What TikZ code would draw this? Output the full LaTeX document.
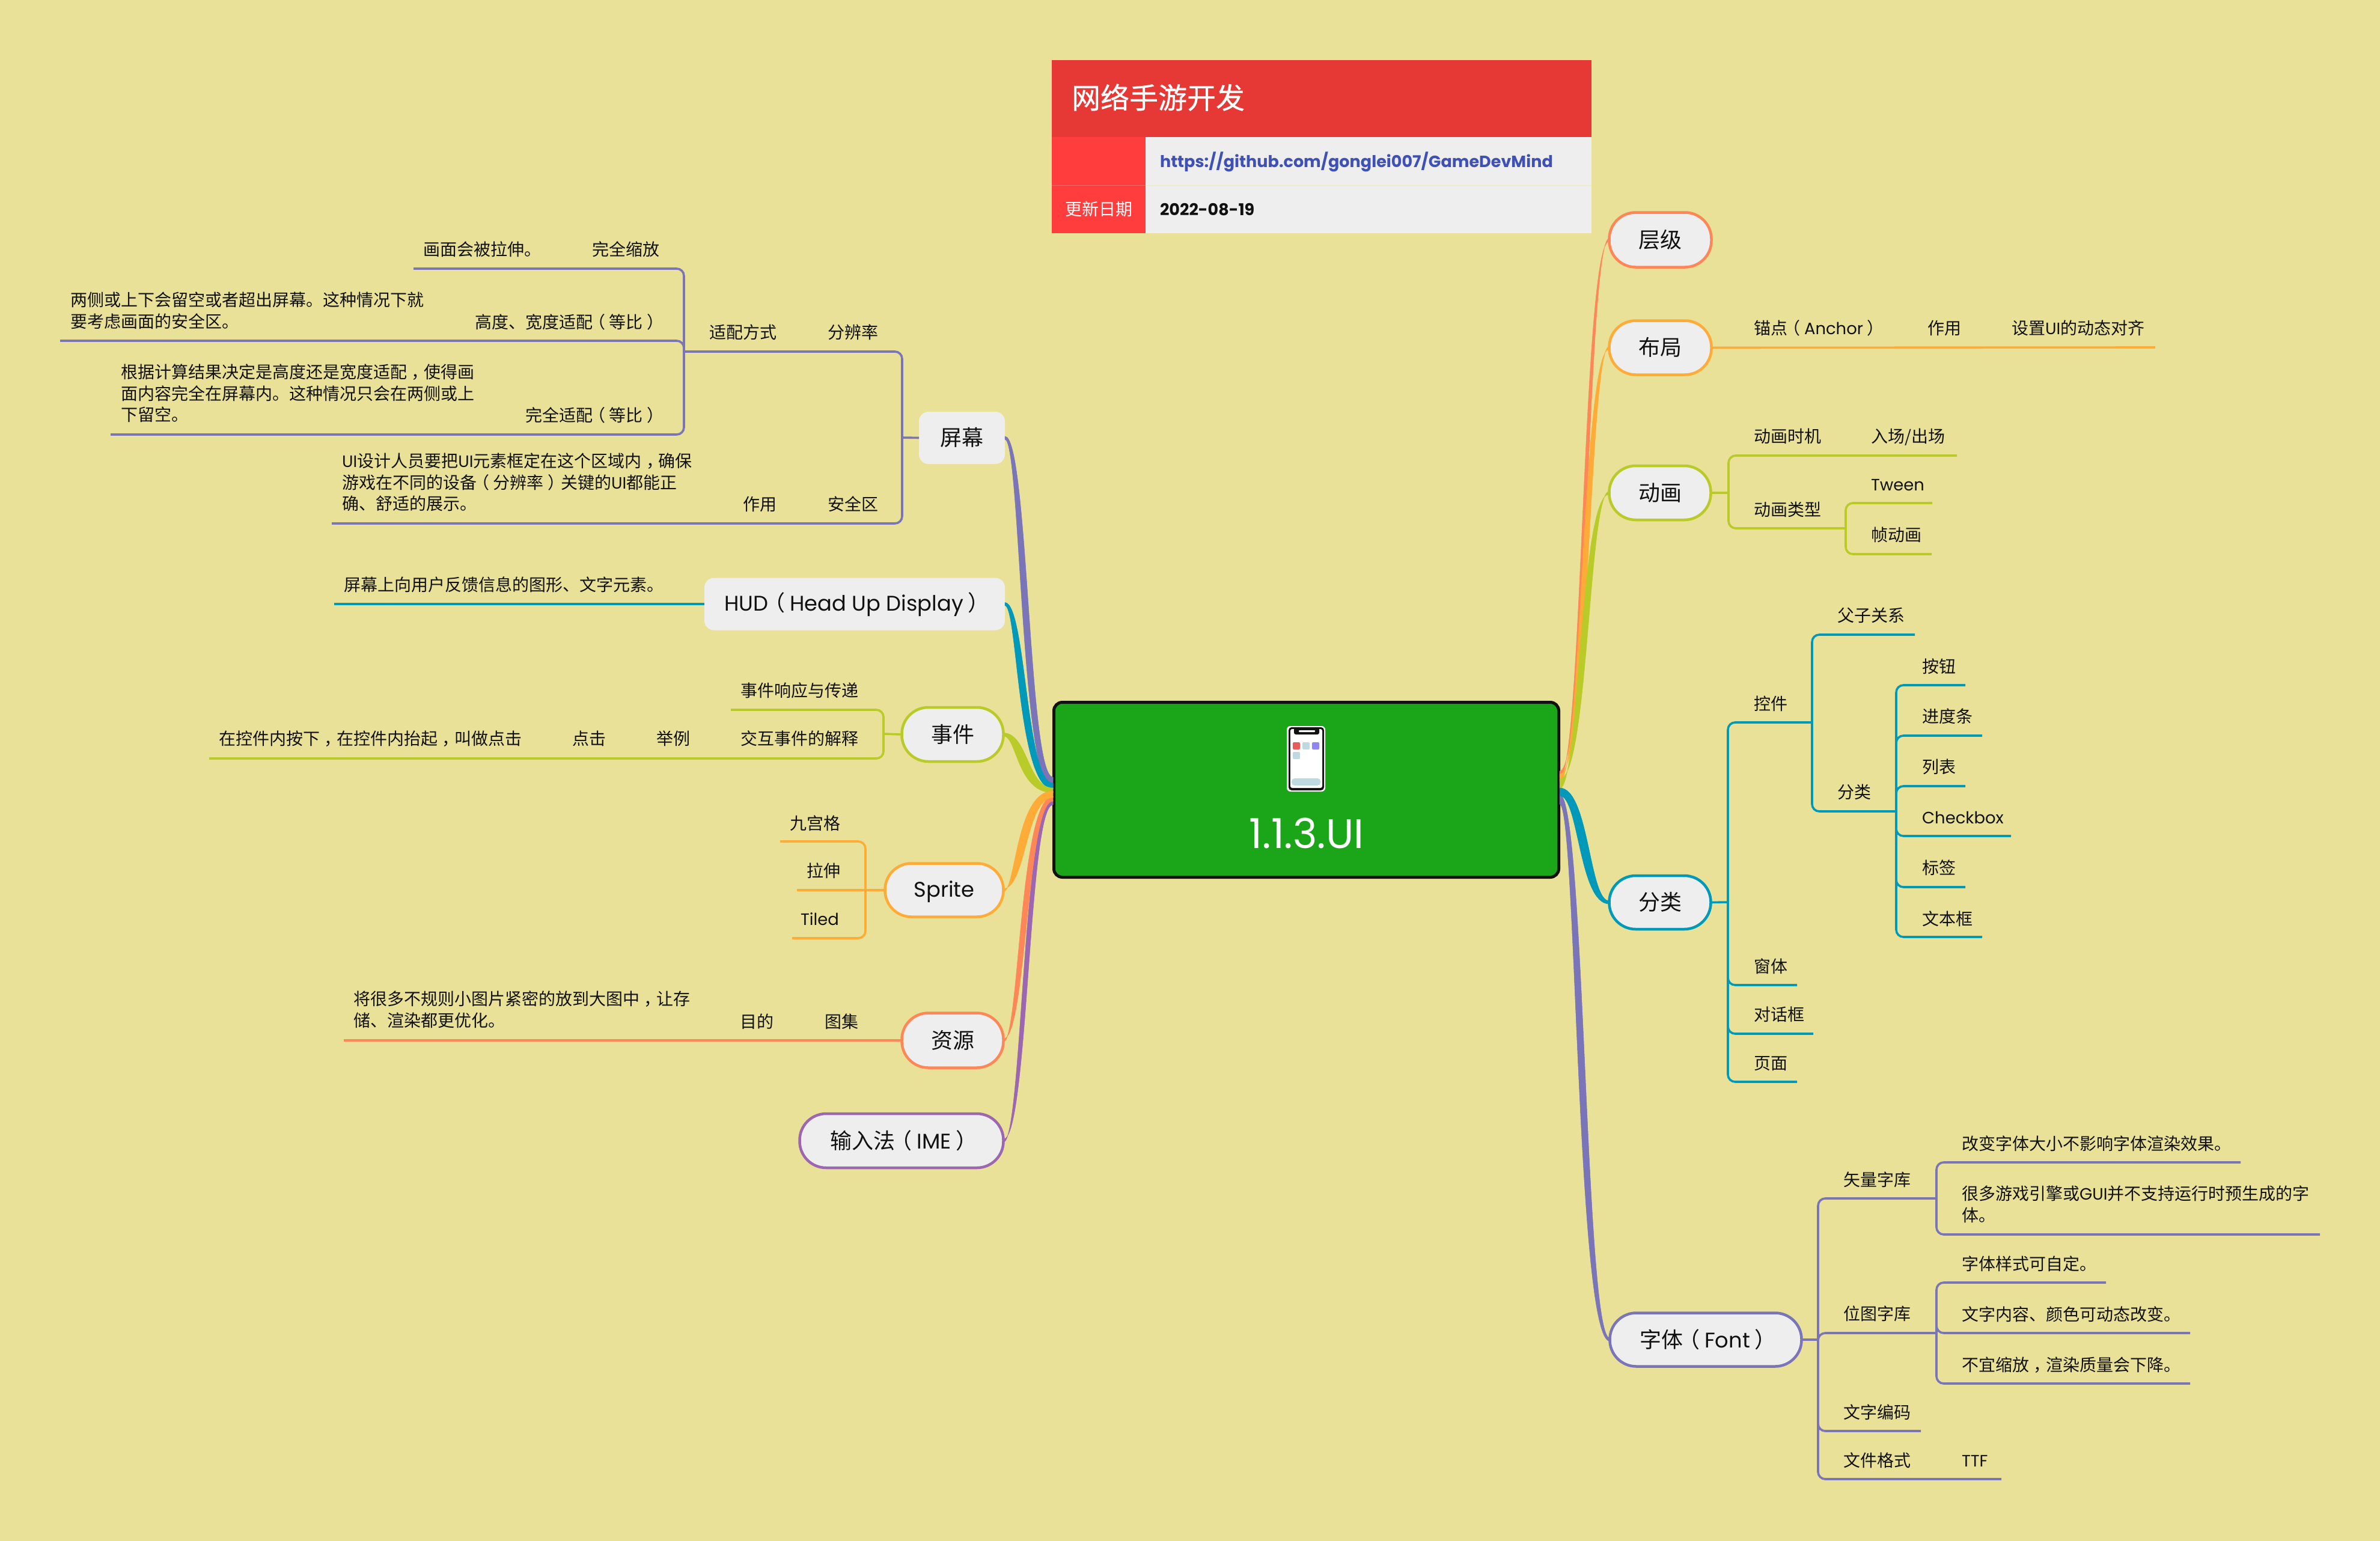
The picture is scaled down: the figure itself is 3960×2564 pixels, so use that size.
\documentclass[tikz,border=0pt]{standalone}
\usepackage{fontspec}
\usetikzlibrary{calc}
\setmainfont{Noto Sans CJK SC}
\newfontfamily\ltnf[Scale=0.98]{Poppins}
\newfontfamily\ttlf[FakeBold=0.7]{Noto Sans CJK SC}
\newcommand{\ltn}[1]{{\ltnf #1}}
\newcommand{\lpn}{\kern-.22em（\kern.22em}
\newcommand{\rpn}{\kern.22em）\kern-.22em}
\newcommand{\cmm}{\kern.28em，\kern-.28em}
\newcommand{\fsz}[1]{\fontsize{#1}{#1}\selectfont}
\newcommand{\ftx}{\fontsize{28}{35.5}\selectfont}
\definecolor{bgc}{HTML}{E9E198}
\definecolor{nodef}{HTML}{EEEEEE}
\definecolor{salm}{HTML}{FF8657}
\definecolor{orng}{HTML}{FFAB37}
\definecolor{lime}{HTML}{B8CB28}
\definecolor{teal2}{HTML}{0099BA}
\definecolor{purp}{HTML}{7A74B8}
\definecolor{viol}{HTML}{9C66B0}
\definecolor{cgreen}{HTML}{1BA61A}
\definecolor{hred}{HTML}{E63936}
\definecolor{cred}{HTML}{FF3D3D}
\definecolor{linkb}{HTML}{3F51B5}
\definecolor{inkc}{HTML}{111111}
\definecolor{tilr}{HTML}{E85C5C}
\definecolor{tilb}{HTML}{BEDAE0}
\definecolor{tilp}{HTML}{8F86F0}
\tikzset{
  txt/.style={inner sep=0pt,outer sep=0pt,font=\ftx,text=inkc,text height=24pt,text depth=3.4pt},
  para/.style={inner sep=0pt,outer sep=0pt,font=\ftx,text=inkc,align=left},
  mainbox/.style={draw=#1,line width=4.5pt,fill=nodef,rounded corners=44pt,inner sep=0pt,outer sep=0pt,font=\fsz{36},text=inkc,text height=31pt,text depth=4.4pt},
  flatbox/.style={fill=nodef,rounded corners=16pt,inner sep=0pt,outer sep=0pt,font=\fsz{36},text=inkc,text height=31pt,text depth=4.4pt},
  tl/.style={draw=#1,line width=3.6pt,rounded corners=12pt},
  taper/.style={draw=#1,fill=#1,line width=.5pt},
}
% tapered connector: colour, start anchor, xm1, xm2, end top, end bottom
\newcommand{\taperline}[6]{%
  \draw[taper=#1] ($(#2)+(0,-2.5)$) .. controls ($(#2 -| #3,0)+(0,-2.5)$) and (#5 -| #3,0) .. (#5)
    -- (#6) .. controls (#6 -| #4,0) and ($(#2 -| #4,0)+(0,2.5)$) .. ($(#2)+(0,2.5)$) -- cycle;}
\newcommand{\pnt}[3]{\coordinate (#1) at (#2,#3);}
\newcommand{\bend}[3]{\draw[tl=#1] (#2) -- (#2 |- #3) -- (#3);}
\begin{document}
\begin{tikzpicture}[x=1pt,y=-1pt]
\useasboundingbox (0,0) rectangle (3960,2564);
\fill[bgc] (0,0) rectangle (3960,2564);
% ---- header table
\fill[hred] (1750,100) rectangle (2648,228);
\fill[cred] (1750,228) rectangle (1906,388);
\fill[nodef] (1906,228) rectangle (2648,388);
\draw[cred!80!white,line width=1pt] (1750,308) -- (1906,308);
\draw[bgc!40!nodef,line width=1pt] (1906,308) -- (2648,308);
\node[txt,anchor=west,font=\ttlf\fsz{48},text=white,text height=41pt,text depth=6pt] (ttl) at (1783,163) {网络手游开发};
\node[txt,font=\fsz{28},text=white] (upd) at (1828,348) {更新日期};
\node[txt,anchor=west,font=\bfseries\fsz{27.6},text=linkb] (url) at (1930,268) {\ltn{https://github.com/gonglei007/GameDevMind}};
\node[txt,anchor=west,font=\bfseries\fsz{27.6}] (dat) at (1930,348) {\ltn{2022-08-19}};
% ---- central topic
\node[draw=inkc,line width=5pt,fill=cgreen,rounded corners=14pt,minimum width=840pt,minimum height=291pt,inner sep=0pt,outer sep=0pt] (cen) at (2173.5,1314) {};
\node[inner sep=0pt,text=white,font=\fsz{70}] (cent) at (2174,1386) {\ltn{1.1.3.UI}};
% phone icon
\fill[white,rounded corners=6pt] (2141,1208) rectangle (2205,1317);
\fill[inkc,rounded corners=5pt] (2144,1210) rectangle (2203,1315);
\fill[white,rounded corners=3pt] (2147,1213) rectangle (2200,1311);
\fill[inkc,rounded corners=3pt] (2153,1211) rectangle (2195,1222);
\fill[white,rounded corners=1pt] (2161,1215) rectangle (2188,1218);
\fill[tilr,rounded corners=2pt] (2151,1235) rectangle (2163,1247);
\fill[tilb,rounded corners=2pt] (2167,1235) rectangle (2179,1247);
\fill[tilp,rounded corners=2pt] (2183,1235) rectangle (2195,1247);
\fill[tilb,rounded corners=2pt] (2151,1251) rectangle (2163,1263);
\fill[tilb,rounded corners=5pt] (2149,1295) rectangle (2197,1307);
% ---- main topics
\node[flatbox,minimum width=143pt,minimum height=87pt] (scr) at (1600.5,728.5) {屏幕};
\node[flatbox,minimum width=500pt,minimum height=87pt,text height=29pt,text depth=6.4pt] (hud) at (1422,1005) {\ltn{HUD}\lpn\ltn{Head Up Display}\rpn};
\node[mainbox=lime,minimum width=169pt,minimum height=90pt] (evt) at (1585,1222) {事件};
\node[mainbox=orng,minimum width=197pt,minimum height=89pt,text height=29pt,text depth=6.4pt] (spr) at (1571,1481) {\ltn{Sprite}};
\node[mainbox=salm,minimum width=169pt,minimum height=91pt] (res) at (1585,1731) {资源};
\node[mainbox=viol,minimum width=339pt,minimum height=90pt] (ime) at (1500,1898) {输入法\lpn\ltn{IME}\rpn};
\node[mainbox=salm,minimum width=170pt,minimum height=91pt] (lay) at (2762.5,399) {层级};
\node[mainbox=orng,minimum width=170pt,minimum height=90pt] (bud) at (2762.5,578.5) {布局};
\node[mainbox=lime,minimum width=169pt,minimum height=90pt] (ani) at (2762,820) {动画};
\node[mainbox=teal2,minimum width=169pt,minimum height=89pt] (cat) at (2762,1501.5) {分类};
\node[mainbox=purp,minimum width=319pt,minimum height=89pt] (fnt) at (2838,2229) {字体\lpn\ltn{Font}\rpn};
% ---- tapered connectors to the central topic
\pnt{e1a}{1752}{1293}\pnt{e1b}{1752}{1313}
\pnt{e2a}{1752}{1303}\pnt{e2b}{1752}{1313}
\pnt{e3a}{1752}{1311}\pnt{e3b}{1752}{1319}
\pnt{e4a}{1752}{1327}\pnt{e4b}{1752}{1316}
\pnt{e5a}{1752}{1333}\pnt{e5b}{1752}{1325}
\pnt{e6a}{1752}{1339}\pnt{e6b}{1752}{1332}
\taperline{purp}{scr.east}{1711}{1698}{e1a}{e1b}
\taperline{teal2}{hud.east}{1707}{1693}{e2a}{e2b}
\taperline{lime}{evt.east}{1710}{1692}{e3a}{e3b}
\taperline{viol}{ime.east}{1711}{1701}{e6a}{e6b}
\taperline{salm}{res.east}{1708}{1696}{e5a}{e5b}
\taperline{orng}{spr.east}{1707}{1690}{e4a}{e4b}
\pnt{r1a}{2595}{1283}\pnt{r1b}{2595}{1293}
\pnt{r2a}{2595}{1288}\pnt{r2b}{2595}{1300}
\pnt{r3a}{2595}{1296}\pnt{r3b}{2595}{1312}
\pnt{r4a}{2595}{1311}\pnt{r4b}{2595}{1324}
\pnt{r5a}{2595}{1322}\pnt{r5b}{2595}{1338}
\taperline{salm}{lay.west}{2641}{2633}{r1a}{r1b}
\taperline{orng}{bud.west}{2644}{2632}{r2a}{r2b}
\taperline{lime}{ani.west}{2643}{2628}{r3a}{r3b}
\taperline{purp}{fnt.west}{2637}{2623}{r5a}{r5b}
\taperline{teal2}{cat.west}{2644}{2627}{r4a}{r4b}
% ---- screen branch
\pnt{sj}{1501}{728}\pnt{s1}{1138}{585}\pnt{s2}{552}{871}
\pnt{sa1}{688}{447}\pnt{sa2}{100}{567}\pnt{sa3}{184}{723}\pnt{sj2}{1138}{585}
\draw[tl=purp] (scr.west) -- (sj);
\bend{purp}{sj}{s1}\bend{purp}{sj}{s2}
\bend{purp}{sj2}{sa1}\bend{purp}{sj2}{sa2}\bend{purp}{sj2}{sa3}
\node[txt,anchor=west] (t01) at (704,415) {画面会被拉伸。};
\node[txt,anchor=east] (t02) at (1097,415) {完全缩放};
\node[para,anchor=north west] (t03) at (117,486) {两侧或上下会留空或者超出屏幕。这种情况下就\\要考虑画面的安全区。};
\node[txt,anchor=east] (t04) at (1098,536) {高度、宽度适配\lpn 等比\rpn};
\node[para,anchor=north west] (t05) at (201,606) {根据计算结果决定是高度还是宽度适配\cmm 使得画\\面内容完全在屏幕内。这种情况只会在两侧或上\\下留空。};
\node[txt,anchor=east] (t06) at (1098,691) {完全适配\lpn 等比\rpn};
\node[txt,anchor=west] (t07) at (1180,553) {适配方式};
\node[txt,anchor=east] (t08) at (1461,553) {分辨率};
\node[para,anchor=north west] (t09) at (569,754) {\ltn{UI}设计人员要把\ltn{UI}元素框定在这个区域内\cmm 确保\\游戏在不同的设备\lpn 分辨率\rpn 关键的\ltn{UI}都能正\\确、舒适的展示。};
\node[txt,anchor=east] (t10) at (1292,839) {作用};
\node[txt,anchor=east] (t11) at (1461,839) {安全区};
% ---- HUD branch
\pnt{h1}{556}{1005}
\draw[tl=teal2] (hud.west) -- (h1);
\node[txt,anchor=west] (t12) at (572,973) {屏幕上向用户反馈信息的图形、文字元素。};
% ---- event branch
\pnt{ej}{1470}{1221}\pnt{e1}{1216}{1181}\pnt{e2}{348}{1262}
\draw[tl=lime] (evt.west) -- (ej);
\bend{lime}{ej}{e1}\bend{lime}{ej}{e2}
\node[txt,anchor=east] (t13) at (1428,1149) {事件响应与传递};
\node[txt,anchor=east] (t14) at (1428,1229) {交互事件的解释};
\node[txt,anchor=east] (t15) at (1148,1229) {举例};
\node[txt,anchor=east] (t16) at (1008,1229) {点击};
\node[txt,anchor=west] (t17) at (364,1229) {在控件内按下\cmm 在控件内抬起\cmm 叫做点击};
% ---- sprite branch
\pnt{pj}{1440}{1481}\pnt{p1}{1298}{1400}\pnt{p2}{1326}{1481}\pnt{p3}{1318}{1561}
\draw[tl=orng] (spr.west) -- (p2);
\bend{orng}{pj}{p1}\bend{orng}{pj}{p3}
\node[txt,anchor=east] (t18) at (1398,1370) {九宫格};
\node[txt,anchor=east] (t19) at (1398,1449) {拉伸};
\node[txt,anchor=east] (t20) at (1396,1529) {\ltn{Tiled}};
% ---- resource branch
\pnt{q1}{572}{1731}
\draw[tl=salm] (res.west) -- (q1);
\node[txt,anchor=east] (t21) at (1428,1700) {图集};
\node[txt,anchor=east] (t22) at (1287,1700) {目的};
\node[para,anchor=north west] (t23) at (588,1649) {将很多不规则小图片紧密的放到大图中\cmm 让存\\储、渲染都更优化。};
% ---- layout branch
\pnt{b1}{3586}{578}
\draw[tl=orng] (bud.east) -- (b1);
\node[txt,anchor=west] (t24) at (2918,546) {锚点\lpn\ltn{Anchor}\rpn};
\node[txt,anchor=west] (t25) at (3207,546) {作用};
\node[txt,anchor=west] (t26) at (3347,546) {设置\ltn{UI}的动态对齐};
% ---- animation branch
\pnt{aj}{2876}{820}\pnt{a1}{3256}{758}\pnt{a2}{3071}{879}\pnt{aj2}{3071}{879}\pnt{a3}{3215}{837}\pnt{a4}{3214}{922}
\draw[tl=lime] (ani.east) -- (aj);
\bend{lime}{aj}{a1}\bend{lime}{aj}{a2}\bend{lime}{aj2}{a3}\bend{lime}{aj2}{a4}
\node[txt,anchor=west] (t27) at (2918,726) {动画时机};
\node[txt,anchor=west] (t28) at (3113,726) {入场/出场};
\node[txt,anchor=west] (t29) at (2918,848) {动画类型};
\node[txt,anchor=west] (t30) at (3113,806) {\ltn{Tween}};
\node[txt,anchor=west] (t31) at (3113,890) {帧动画};
% ---- category branch
\pnt{cj}{2875}{1501}\pnt{c1}{3015}{1202}\pnt{cj2}{3015}{1202}\pnt{c2}{3186}{1056}\pnt{c3}{3155}{1350}\pnt{cj3}{3155}{1350}
\pnt{c4}{3270}{1140}\pnt{c5}{3298}{1224}\pnt{c6}{3270}{1308}\pnt{c7}{3346}{1391}\pnt{c8}{3270}{1476}\pnt{c9}{3298}{1559}
\pnt{c10}{2990}{1639}\pnt{c11}{3017}{1720}\pnt{c12}{2990}{1800}
\draw[tl=teal2] (cat.east) -- (cj);
\bend{teal2}{cj}{c1}\bend{teal2}{cj}{c10}\bend{teal2}{cj}{c11}\bend{teal2}{cj}{c12}
\bend{teal2}{cj2}{c2}\bend{teal2}{cj2}{c3}
\bend{teal2}{cj3}{c4}\bend{teal2}{cj3}{c5}\bend{teal2}{cj3}{c6}\bend{teal2}{cj3}{c7}\bend{teal2}{cj3}{c8}\bend{teal2}{cj3}{c9}
\node[txt,anchor=west] (t32) at (2918,1171) {控件};
\node[txt,anchor=west] (t33) at (3057,1024) {父子关系};
\node[txt,anchor=west] (t34) at (3057,1318) {分类};
\node[txt,anchor=west] (t35) at (3198,1109) {按钮};
\node[txt,anchor=west] (t36) at (3198,1192) {进度条};
\node[txt,anchor=west] (t37) at (3198,1276) {列表};
\node[txt,anchor=west] (t38) at (3198,1360) {\ltn{Checkbox}};
\node[txt,anchor=west] (t39) at (3198,1444) {标签};
\node[txt,anchor=west] (t40) at (3198,1529) {文本框};
\node[txt,anchor=west] (t41) at (2918,1608) {窗体};
\node[txt,anchor=west] (t42) at (2918,1688) {对话框};
\node[txt,anchor=west] (t43) at (2918,1769) {页面};
% ---- font branch
\pnt{fj}{3025}{2229}\pnt{f1}{3222}{1994}\pnt{f2}{3222}{2218}\pnt{f3}{3196}{2381}\pnt{f4}{3330}{2461}
\pnt{fv}{3222}{1994}\pnt{fb}{3222}{2218}
\pnt{v1}{3728}{1934}\pnt{v2}{3860}{2054}\pnt{b2}{3504}{2134}\pnt{b3}{3644}{2218}\pnt{b4}{3644}{2302}
\draw[tl=purp] (fnt.east) -- (fj);
\bend{purp}{fj}{f1}\bend{purp}{fj}{f2}\bend{purp}{fj}{f3}\bend{purp}{fj}{f4}
\bend{purp}{fv}{v1}\bend{purp}{fv}{v2}
\bend{purp}{fb}{b2}\bend{purp}{fb}{b3}\bend{purp}{fb}{b4}
\node[txt,anchor=west] (t44) at (3067,1963) {矢量字库};
\node[txt,anchor=west] (t45) at (3067,2186) {位图字库};
\node[txt,anchor=west] (t46) at (3067,2350) {文字编码};
\node[txt,anchor=west] (t47) at (3067,2430) {文件格式};
\node[txt,anchor=west] (t48) at (3264,1903) {改变字体大小不影响字体渲染效果。};
\node[para,anchor=north west] (t49) at (3264,1973) {很多游戏引擎或\ltn{GUI}并不支持运行时预生成的字\\体。};
\node[txt,anchor=west] (t50) at (3264,2103) {字体样式可自定。};
\node[txt,anchor=west] (t51) at (3264,2187) {文字内容、颜色可动态改变。};
\node[txt,anchor=west] (t52) at (3264,2271) {不宜缩放\cmm 渲染质量会下降。};
\node[txt,anchor=west] (t53) at (3264,2430) {\ltn{TTF}};
\end{tikzpicture}
\end{document}
